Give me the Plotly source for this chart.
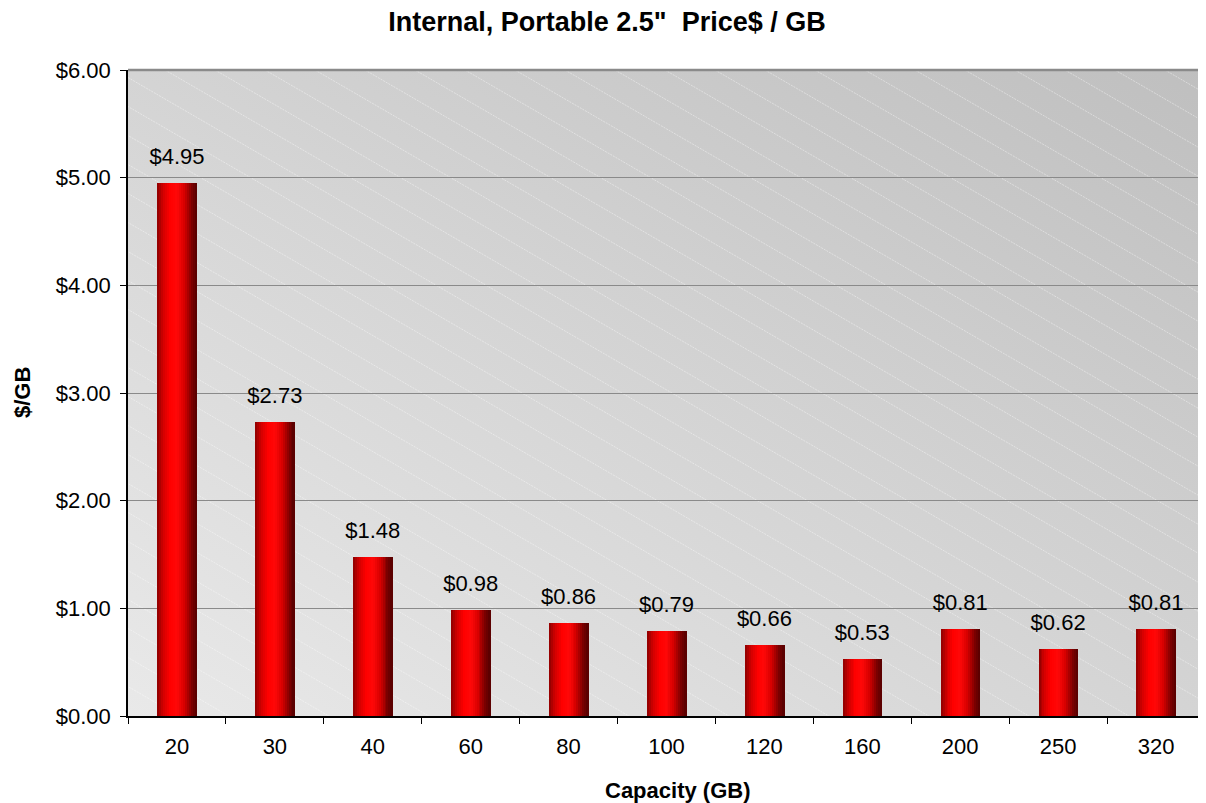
import base64
import plotly.graph_objects as go

# ---- data ----
capacities = ["20", "30", "40", "60", "80", "100", "120", "160", "200", "250", "320"]
price_per_gb = [4.95, 2.73, 1.48, 0.98, 0.86, 0.79, 0.66, 0.53, 0.81, 0.62, 0.81]
y_ticks = [0, 1, 2, 3, 4, 5, 6]

title_text = "Internal, Portable 2.5\"\u00a0 Price$ / GB"
x_title = "Capacity (GB)"
y_title = "$/GB"

# ---- style ----
FONT = "Liberation Sans, Arial, sans-serif"
OFF = 8  # default page body margin
W, H = 1206 - OFF, 803 - OFF
ML, MR, MT, MB = 128 - OFF, 1, 70 - OFF, 87
PW, PH = W - ML - MR, H - MT - MB

# background: diagonal gradient with thin white diagonal stripes
slope = 0.58
lines = []
x0 = -int(PH / slope) - 100
while x0 < PW + 50:
    lines.append(
        f'<line x1="{x0}" y1="0" x2="{x0 + PH / slope:.1f}" y2="{PH}" '
        f'stroke="white" stroke-opacity="0.4" stroke-width="1" stroke-dasharray="2,1"/>'
    )
    x0 += 50
svg = (
    f'<svg xmlns="http://www.w3.org/2000/svg" width="{PW}" height="{PH}" '
    f'viewBox="0 0 {PW} {PH}" preserveAspectRatio="none">'
    '<defs><linearGradient id="g" x1="0" y1="1" x2="1" y2="0">'
    '<stop offset="0" stop-color="#e9e9e9"/><stop offset="1" stop-color="#bfbfbf"/>'
    '</linearGradient></defs>'
    f'<rect width="{PW}" height="{PH}" fill="url(#g)"/>' + "".join(lines) + "</svg>"
)
bg_src = "data:image/svg+xml;base64," + base64.b64encode(svg.encode()).decode()

# horizontal gradient for cylinder-like bars
stops = [(0.0, (140, 0, 0)), (0.15, (210, 0, 0)), (0.33, (255, 0, 0)),
         (0.5, (255, 8, 8)), (0.68, (215, 0, 0)), (0.88, (120, 0, 0)), (1.0, (85, 0, 0))]


def grad(t):
    for (t0, c0), (t1, c1) in zip(stops[:-1], stops[1:]):
        if t0 <= t <= t1:
            f = (t - t0) / (t1 - t0) if t1 > t0 else 0
            return "rgb(%d,%d,%d)" % tuple(round(a + (b - a) * f) for a, b in zip(c0, c1))
    return "rgb(%d,%d,%d)" % stops[-1][1]


BAR_W = 0.4
N = 20
sw = BAR_W / N

fig = go.Figure()
for k in range(N):
    fig.add_trace(go.Bar(
        x=capacities, y=price_per_gb,
        width=sw + 0.006, offset=-BAR_W / 2 + k * sw,
        marker=dict(color=grad((k + 0.5) / N), line=dict(width=0)),
        showlegend=False, hoverinfo="skip" if k else "x+y",
    ))

# value labels
fig.add_trace(go.Scatter(
    x=capacities, y=price_per_gb, mode="markers+text",
    marker=dict(size=20, opacity=0),
    text=[f"${v:.2f}" for v in price_per_gb],
    textposition="top center",
    textfont=dict(family=FONT, size=22, color="black"),
    showlegend=False, hoverinfo="skip", cliponaxis=False,
))

fig.update_layout(
    width=W, height=H,
    margin=dict(l=ML, r=MR, t=MT, b=MB),
    paper_bgcolor="white", plot_bgcolor="rgba(0,0,0,0)",
    barmode="overlay", bargap=0,
    font=dict(family=FONT, size=22, color="black"),
    title=dict(text=title_text, x=(607 - OFF) / W, xanchor="center",
               y=1 - (22 - OFF) / H, yanchor="middle",
               font=dict(family=FONT, size=27, color="black", weight="bold")),
    images=[dict(source=bg_src, xref="paper", yref="paper", x=0, y=1,
                 sizex=1, sizey=1, xanchor="left", yanchor="top",
                 sizing="stretch", layer="below")],
    xaxis=dict(type="category", range=[-0.5, len(capacities) - 0.5],
               showgrid=False, showline=True, linecolor="black",
               linewidth=1.5, ticks="outside", ticklen=6, tickcolor="black",
               tickson="boundaries", ticklabelstandoff=10,
               tickfont=dict(family=FONT, size=22), zeroline=False),
    yaxis=dict(range=[0, 6], tickvals=y_ticks, tickformat="$.2f",
               showgrid=True, gridcolor="#8a8a8a", gridwidth=1,
               showline=True, linecolor="black", linewidth=1.5,
               ticks="outside", ticklen=6, tickcolor="black", ticklabelstandoff=5,
               tickfont=dict(family=FONT, size=22), zeroline=False),
    shapes=[dict(type="line", xref="paper", yref="paper", x0=0, x1=1, y0=1, y1=1,
                 line=dict(color="#8a8a8a", width=2.5), layer="above")],
    annotations=[
        dict(text=x_title, xref="paper", yref="paper",
             x=(677 - 128) / PW, y=-(790 - 716) / PH,
             xanchor="center", yanchor="middle", showarrow=False,
             font=dict(family=FONT, size=22, weight="bold")),
        dict(text=y_title, xref="paper", yref="paper",
             x=-(128 - 22) / PW, y=(716 - 393) / PH,
             xanchor="center", yanchor="middle", textangle=-90, showarrow=False,
             font=dict(family=FONT, size=22, weight="bold")),
    ],
)

fig.write_html("out.html")
